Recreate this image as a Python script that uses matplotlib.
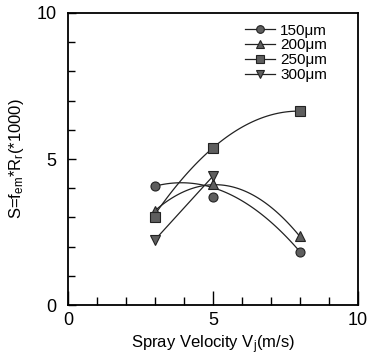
import numpy as np
import matplotlib.pyplot as plt
from matplotlib.ticker import MultipleLocator

plt.rcParams['font.family'] = ['Liberation Sans', 'DejaVu Sans']
plt.rcParams['mathtext.fontset'] = 'custom'
plt.rcParams['mathtext.rm'] = 'Liberation Sans'
plt.rcParams['mathtext.it'] = 'Liberation Sans'

# Measured points (spray velocity vs S)
vel = [3, 5, 8]
s150 = [4.07, 3.69, 1.83]
s200 = [3.23, 4.15, 2.35]
s250 = [3.03, 5.38, 6.64]
vel300 = [3, 5]
s300 = [2.23, 4.41]

# Values of the drawn trend curves at the same velocities
fit150 = [4.07, 4.02, 1.83]
fit200 = [3.23, 4.12, 2.35]
fit250 = [3.10, 5.38, 6.64]

labels = ['150\u03bcm', '200\u03bcm', '250\u03bcm', '300\u03bcm']

fig = plt.figure(figsize=(3.67, 3.61), dpi=100)
ax = fig.add_axes([0.185, 0.155, 0.79, 0.809])

xs = np.linspace(3, 8, 100)
for fit in [fit150, fit200, fit250]:
    c = np.polyfit(vel, fit, 2)
    ax.plot(xs, np.polyval(c, xs), color='#222222', lw=0.9)
ax.plot(vel300, s300, color='#222222', lw=0.9)

mk = dict(color='#222222', lw=0.9, markerfacecolor='#5e5e5e',
          markeredgecolor='#222222', markersize=6.5, markeredgewidth=0.8)
ax.plot([], [], marker='o', label=labels[0], **mk)
ax.plot([], [], marker='^', label=labels[1], **mk)
ax.plot([], [], marker='s', label=labels[2], **mk)
ax.plot([], [], marker='v', label=labels[3], **mk)
ax.plot(vel, s150, 'o', **mk)
ax.plot(vel, s200, '^', **mk)
ax.plot(vel, s250, 's', **mk)
ax.plot(vel300, s300, 'v', **mk)

ax.set_xlim(0, 10)
ax.set_ylim(0, 10)
ax.xaxis.set_major_locator(MultipleLocator(5))
ax.xaxis.set_minor_locator(MultipleLocator(1))
ax.yaxis.set_major_locator(MultipleLocator(5))
ax.yaxis.set_minor_locator(MultipleLocator(1))
ax.tick_params(which='both', direction='in', labelsize=13, width=1)
ax.tick_params(axis='x', which='major', length=10, pad=5)
ax.tick_params(axis='x', which='minor', length=6)
ax.tick_params(axis='y', which='major', length=6, pad=8)
ax.tick_params(axis='y', which='minor', length=5)
for sp in ax.spines.values():
    sp.set_linewidth(1.3)
ax.get_xticklabels()[-1].set_horizontalalignment('right')
ax.get_xticklabels()[-1].set_x(10)

ax.set_xlabel('Spray Velocity V$_j$(m/s)', fontsize=12, labelpad=3)
ax.set_ylabel('S=f$_{em}$*R$_r$(*1000)', fontsize=12, labelpad=8)

ax.legend(loc='upper right', frameon=False, fontsize=11, handlelength=2.0,
          handletextpad=0.3, labelspacing=0.05, borderaxespad=0.3,
          markerscale=0.85, bbox_to_anchor=(0.93, 1.0))

fig.canvas.draw()
for lab in ax.get_xticklabels():
    if lab.get_text() == '10':
        lab.set_horizontalalignment('center')
        lab.set_x(9.85)

fig.savefig('out.png', dpi=100)
